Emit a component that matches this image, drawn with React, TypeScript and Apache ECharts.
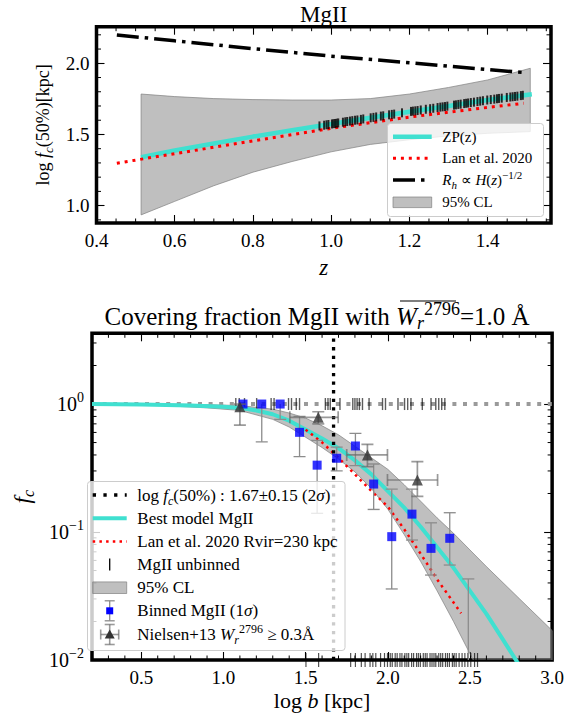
import React, { useEffect, useRef } from "react";
import * as echarts from "echarts";

const SERIF = "Liberation Serif, serif";

// ---------------- Top panel (log f_c(50%) vs z) ----------------
const zpZ = [0.514, 0.6, 0.7, 0.8, 0.9, 1.0, 1.1, 1.2, 1.3, 1.4, 1.513];
const zpLogR = [1.34, 1.387, 1.437, 1.485, 1.53, 1.573, 1.617, 1.66, 1.7, 1.742, 1.782];
const lanZ = [0.452, 0.6, 0.8, 1.0, 1.2, 1.4, 1.492];
const lanLogR = [1.298, 1.365, 1.455, 1.543, 1.622, 1.69, 1.719];
const hubZ = [0.452, 0.6, 0.8, 1.0, 1.2, 1.4, 1.496];
const hubLogR = [2.199, 2.158, 2.103, 2.05, 2.004, 1.956, 1.934];
const clZ = [0.514, 0.6, 0.7, 0.8, 0.9, 1.0, 1.1, 1.2, 1.3, 1.4, 1.509];
const clUpper = [1.784, 1.766, 1.752, 1.745, 1.742, 1.742, 1.752, 1.784, 1.83, 1.883, 1.965];
const clLower = [0.935, 1.03, 1.14, 1.235, 1.31, 1.378, 1.43, 1.463, 1.49, 1.508, 1.52];
const rugZ = [0.97, 0.982, 0.988, 0.993, 1.002, 1.006, 1.01, 1.014, 1.018, 1.03, 1.036, 1.041, 1.048, 1.054, 1.061, 1.067, 1.076, 1.082, 1.101, 1.108, 1.115, 1.127, 1.133, 1.148, 1.155, 1.161, 1.181, 1.204, 1.209, 1.215, 1.221, 1.229, 1.242, 1.253, 1.261, 1.272, 1.279, 1.285, 1.291, 1.297, 1.314, 1.319, 1.325, 1.331, 1.34, 1.345, 1.35, 1.357, 1.365, 1.374, 1.381, 1.388, 1.399, 1.408, 1.417, 1.424, 1.429, 1.436, 1.449, 1.458, 1.464, 1.47, 1.476, 1.485, 1.49];
const rugLogR = [1.56, 1.565, 1.568, 1.57, 1.574, 1.576, 1.577, 1.579, 1.581, 1.586, 1.589, 1.591, 1.594, 1.597, 1.6, 1.602, 1.606, 1.609, 1.617, 1.62, 1.623, 1.629, 1.631, 1.638, 1.641, 1.643, 1.652, 1.662, 1.664, 1.666, 1.668, 1.672, 1.677, 1.681, 1.684, 1.689, 1.692, 1.694, 1.696, 1.699, 1.706, 1.708, 1.711, 1.713, 1.717, 1.719, 1.721, 1.724, 1.727, 1.731, 1.734, 1.737, 1.742, 1.745, 1.748, 1.751, 1.753, 1.755, 1.76, 1.763, 1.765, 1.767, 1.769, 1.773, 1.775];

// ---------------- Bottom panel (f_c vs log b) ----------------
const modelLogB = [0.2, 0.5, 0.8, 1.0, 1.1, 1.2, 1.3, 1.4, 1.5, 1.6, 1.7, 1.8, 1.9, 2.0, 2.1, 2.2, 2.3, 2.4, 2.5, 2.6, 2.7, 2.8];
const modelFc = [1.0, 0.991, 0.973, 0.953, 0.933, 0.891, 0.832, 0.741, 0.631, 0.537, 0.452, 0.363, 0.282, 0.209, 0.155, 0.11, 0.0759, 0.0525, 0.0347, 0.0229, 0.0145, 0.0091];
const bandLogB = [0.2, 0.6, 0.9, 1.1, 1.3, 1.4, 1.5, 1.6, 1.7, 1.8, 1.9, 2.0, 2.1, 2.2, 2.3, 2.4, 2.5, 2.6, 2.8, 3.0];
const bandUpper = [1.007, 1.0, 0.989, 0.973, 0.912, 0.851, 0.776, 0.676, 0.575, 0.468, 0.38, 0.309, 0.234, 0.174, 0.129, 0.0977, 0.0724, 0.0537, 0.0302, 0.017];
const bandLower = [0.993, 0.977, 0.933, 0.891, 0.759, 0.661, 0.55, 0.457, 0.372, 0.295, 0.219, 0.151, 0.0955, 0.0589, 0.0347, 0.02, 0.0112, 0.0063, 0.002, 0.00063];
const lanLogB = [1.5, 1.6, 1.7, 1.8, 1.9, 2.0, 2.1, 2.2, 2.3, 2.446];
const lanFc = [0.631, 0.501, 0.38, 0.282, 0.209, 0.158, 0.105, 0.0676, 0.0427, 0.0232];
const b50 = 1.67;
const blueLogB = [1.119, 1.233, 1.345, 1.463, 1.57, 1.689, 1.803, 1.914, 2.024, 2.147, 2.263, 2.377];
const blueFc = [1.0, 1.0, 1.0, 0.601, 0.333, 0.377, 0.47, 0.237, 0.092, 0.138, 0.0745, 0.0893];
const blueLo = [1.0, 0.507, 0.759, 0.388, 0.14, 0.3, 0.33, 0.15, 0.0359, 0.0866, 0.0461, 0.0552];
const blueHi = [1.0, 1.0, 1.0, 0.8, 0.52, 0.46, 0.59, 0.34, 0.216, 0.216, 0.118, 0.1415];
const emptyBinLogB = [2.49];
const emptyBinHi = [0.043];
const nielLogB = [1.1, 1.577, 1.876, 2.18];
const nielFc = [0.953, 0.787, 0.4, 0.255];
const nielLo = [0.685, 0.7, 0.324, 0.19];
const nielHi = [1.0, 0.87, 0.484, 0.355];
const nielBLo = [1.1, 1.404, 1.75, 1.998];
const nielBHi = [1.1, 1.698, 1.998, 2.303];
const detLogB = [1.075, 1.096, 1.128, 1.202, 1.29, 1.308, 1.396, 1.414, 1.443, 1.463, 1.62, 1.636, 1.65, 1.709, 1.787, 1.8, 1.813, 1.827, 1.846, 1.886, 1.968, 1.986, 2.062, 2.102, 2.121, 2.141, 2.21, 2.263, 2.292, 2.31, 2.328, 2.347];
const nondetLogB = [1.502, 1.579, 1.774, 1.803, 1.839, 1.862, 1.892, 1.909, 1.927, 1.956, 1.98, 1.998, 2.015, 2.027, 2.045, 2.057, 2.074, 2.086, 2.104, 2.116, 2.127, 2.145, 2.157, 2.175, 2.186, 2.198, 2.216, 2.228, 2.239, 2.257, 2.269, 2.281, 2.292, 2.31, 2.322, 2.334, 2.351, 2.363, 2.375, 2.393, 2.404, 2.416, 2.434, 2.452, 2.469, 2.487, 2.505, 2.528, 2.546];

// axis ranges / ticks
const topX = { min: 0.4, max: 1.562, interval: 0.2 };
const topY = { min: 0.878, max: 2.257 };
const botX = { min: 0.2, max: 3.0 };
const botY = { min: 0.01, max: 3.57 };

const CYAN = "#40E0D0";
const TICK = { show: true, inside: true, length: 8, lineStyle: { color: "#000", width: 1.1 } };
const LBL = { fontFamily: SERIF, fontSize: 19, color: "#000" };
const TOP = 0; // axis index of top panel
const BOT = 2; // axis index of bottom panel

function range(a: number, b: number, step: number) {
  const out: number[] = [];
  for (let v = a; v <= b + 1e-9; v += step) out.push(Math.round(v * 1000) / 1000);
  return out;
}

function minorTicks(ai: number, dir: "x" | "y", values: number[], other: number, len: number) {
  return {
    type: "custom",
    xAxisIndex: ai,
    yAxisIndex: ai,
    silent: true,
    z: 20,
    data: values.map((v) => (dir === "x" ? [v, other] : [other, v])),
    renderItem: (params: any, api: any) => {
      const cs = params.coordSys;
      const p = api.coord([api.value(0), api.value(1)]);
      const st = { stroke: "#000", lineWidth: 1 };
      if (dir === "x") {
        return {
          type: "group",
          children: [
            { type: "line", shape: { x1: p[0], y1: cs.y + cs.height, x2: p[0], y2: cs.y + cs.height - len }, style: st },
            { type: "line", shape: { x1: p[0], y1: cs.y, x2: p[0], y2: cs.y + len }, style: st },
          ],
        };
      }
      return {
        type: "group",
        children: [
          { type: "line", shape: { x1: cs.x, y1: p[1], x2: cs.x + len, y2: p[1] }, style: st },
          { type: "line", shape: { x1: cs.x + cs.width, y1: p[1], x2: cs.x + cs.width - len, y2: p[1] }, style: st },
        ],
      };
    },
  };
}

function errorBars(ai: number, data: number[][], color: string, lw: number, cap: number, z: number) {
  return {
    type: "custom",
    xAxisIndex: ai,
    yAxisIndex: ai,
    clip: true,
    silent: true,
    z,
    data,
    renderItem: (params: any, api: any) => {
      const x = api.value(0), y = api.value(1), lo = api.value(2), hi = api.value(3), xl = api.value(4), xh = api.value(5);
      const st = { stroke: color, lineWidth: lw };
      const ch: any[] = [];
      const pl = api.coord([x, lo]);
      const ph = api.coord([x, hi]);
      ch.push({ type: "line", shape: { x1: pl[0], y1: pl[1], x2: ph[0], y2: ph[1] }, style: st });
      if (lo !== y) ch.push({ type: "line", shape: { x1: pl[0] - cap, y1: pl[1], x2: pl[0] + cap, y2: pl[1] }, style: st });
      if (hi !== y) ch.push({ type: "line", shape: { x1: ph[0] - cap, y1: ph[1], x2: ph[0] + cap, y2: ph[1] }, style: st });
      if (xl !== xh) {
        const a = api.coord([xl, y]);
        const b = api.coord([xh, y]);
        ch.push({ type: "line", shape: { x1: a[0], y1: a[1], x2: b[0], y2: b[1] }, style: st });
        ch.push({ type: "line", shape: { x1: a[0], y1: a[1] - cap, x2: a[0], y2: a[1] + cap }, style: st });
        ch.push({ type: "line", shape: { x1: b[0], y1: b[1] - cap, x2: b[0], y2: b[1] + cap }, style: st });
      }
      return { type: "group", children: ch };
    },
  };
}

function band(ai: number, xs: number[], up: number[], lo: number[]) {
  return {
    type: "custom",
    xAxisIndex: ai,
    yAxisIndex: ai,
    clip: true,
    silent: true,
    z: 1,
    data: [[xs[0], up[0]]],
    renderItem: (params: any, api: any) => {
      const pts: number[][] = [];
      for (let i = 0; i < xs.length; i++) pts.push(api.coord([xs[i], up[i]]));
      for (let i = xs.length - 1; i >= 0; i--) pts.push(api.coord([xs[i], lo[i]]));
      return {
        type: "polygon",
        shape: { points: pts },
        style: { fill: "rgba(128,128,128,0.5)", stroke: "rgba(128,128,128,0.7)", lineWidth: 1 },
      };
    },
  };
}

const richMath = (size: number, lh: number) => ({
  it: { fontFamily: SERIF, fontStyle: "italic", fontSize: size, lineHeight: lh, color: "#000" },
  rm: { fontFamily: SERIF, fontSize: size, lineHeight: lh, color: "#000" },
  sub: { fontFamily: SERIF, fontStyle: "italic", fontSize: Math.round(size * 0.7), lineHeight: Math.round(size * 0.7), verticalAlign: "bottom", color: "#000" },
  sup: { fontFamily: SERIF, fontSize: Math.round(size * 0.7), lineHeight: Math.round(size * 0.7), verticalAlign: "top", color: "#000" },
});

function legendText(x: number, y: number, text: string, size: number) {
  return {
    type: "text",
    x,
    y,
    z: 101,
    style: {
      text,
      fontFamily: SERIF,
      fontSize: size,
      fill: "#000",
      verticalAlign: "middle",
      align: "left",
      lineHeight: size + 6,
      rich: richMath(size, size + 6),
    },
  };
}

function hline(x1: number, x2: number, y: number, stroke: string, lw: number, dash?: number[]) {
  return { type: "line", z: 101, shape: { x1, y1: y, x2, y2: y }, style: { stroke, lineWidth: lw, lineDash: dash } };
}

function buildOption() {
  const tRows = [136.7, 158.3, 180, 202.3];
  const tx1 = 393, tx2 = 431.7, ttx = 442.3;
  const bRows = [495, 518.3, 541.5, 564.5, 587.7, 610.8, 634.5];
  const bx1 = 92.7, bx2 = 126.7, bxc = 109.7, btx = 137.3;
  const NB = "rgba(100,100,100,0.65)";

  const graphic: any[] = [
    // titles
    { type: "text", x: 323.7, y: 14, style: { text: "MgII", fontFamily: SERIF, fontSize: 23, fill: "#000", align: "center", verticalAlign: "middle" } },
    {
      type: "text",
      x: 317,
      y: 316,
      style: {
        text: "Covering fraction MgII with {it|W}{sub|r}{sup|2796}=1.0 Å",
        fontFamily: SERIF,
        fontSize: 25,
        fill: "#000",
        align: "center",
        verticalAlign: "middle",
        lineHeight: 32,
        rich: richMath(25, 32),
      },
    },
    { type: "line", shape: { x1: 400, y1: 301, x2: 456, y2: 301 }, style: { stroke: "#000", lineWidth: 1.2 } },
    // top legend
    { type: "rect", z: 100, shape: { x: 387.5, y: 123.5, width: 156, height: 93, r: 3 }, style: { fill: "rgba(255,255,255,0.8)", stroke: "#cccccc", lineWidth: 1 } },
    hline(tx1, tx2, tRows[0], CYAN, 4.5),
    hline(tx1, tx2, tRows[1], "#ff0000", 3, [3, 4.9]),
    hline(tx1, tx2, tRows[2], "#000", 3.5, [22, 6, 3.5, 60]),
    { type: "rect", z: 101, shape: { x: tx1, y: tRows[3] - 5.3, width: tx2 - tx1, height: 10.6 }, style: { fill: "rgba(128,128,128,0.5)", stroke: "rgba(128,128,128,0.7)", lineWidth: 1 } },
    legendText(ttx, tRows[0], "ZP(z)", 15),
    legendText(ttx, tRows[1], "Lan et al. 2020", 15),
    legendText(ttx, tRows[2], "{it|R}{sub|h} ∝ {it|H}({it|z}){sup|−1/2}", 15),
    legendText(ttx, tRows[3], "95% CL", 15),
    // bottom legend
    { type: "rect", z: 100, shape: { x: 87.5, y: 481.5, width: 257.5, height: 169, r: 3 }, style: { fill: "rgba(255,255,255,0.8)", stroke: "#cccccc", lineWidth: 1 } },
    hline(bx1, bx2, bRows[0], "#000", 3.3, [3.3, 7.4]),
    hline(bx1, bx2, bRows[1], CYAN, 4),
    hline(bx1, bx2, bRows[2], "#ff0000", 2.5, [2.5, 4.2]),
    { type: "line", z: 101, shape: { x1: bxc, y1: bRows[3] - 6, x2: bxc, y2: bRows[3] + 6 }, style: { stroke: "#000", lineWidth: 1.3 } },
    { type: "rect", z: 101, shape: { x: bx1, y: bRows[4] - 5.8, width: bx2 - bx1, height: 11.6 }, style: { fill: "rgba(128,128,128,0.5)", stroke: "rgba(128,128,128,0.7)", lineWidth: 1 } },
    { type: "line", z: 101, shape: { x1: bxc, y1: bRows[5] - 10, x2: bxc, y2: bRows[5] + 10 }, style: { stroke: "#8c8c8c", lineWidth: 1.3 } },
    { type: "line", z: 101, shape: { x1: bxc - 5, y1: bRows[5] - 10, x2: bxc + 5, y2: bRows[5] - 10 }, style: { stroke: "#8c8c8c", lineWidth: 1.3 } },
    { type: "line", z: 101, shape: { x1: bxc - 5, y1: bRows[5] + 10, x2: bxc + 5, y2: bRows[5] + 10 }, style: { stroke: "#8c8c8c", lineWidth: 1.3 } },
    { type: "rect", z: 102, shape: { x: bxc - 3.5, y: bRows[5] - 3.5, width: 7, height: 7 }, style: { fill: "#0000ff" } },
    { type: "line", z: 101, shape: { x1: bxc, y1: bRows[6] - 10, x2: bxc, y2: bRows[6] + 10 }, style: { stroke: NB, lineWidth: 1.6 } },
    { type: "line", z: 101, shape: { x1: bxc - 5, y1: bRows[6] - 10, x2: bxc + 5, y2: bRows[6] - 10 }, style: { stroke: NB, lineWidth: 1.6 } },
    { type: "line", z: 101, shape: { x1: bxc - 5, y1: bRows[6] + 10, x2: bxc + 5, y2: bRows[6] + 10 }, style: { stroke: NB, lineWidth: 1.6 } },
    { type: "line", z: 101, shape: { x1: bxc - 9, y1: bRows[6], x2: bxc + 9, y2: bRows[6] }, style: { stroke: NB, lineWidth: 1.6 } },
    { type: "line", z: 101, shape: { x1: bxc - 9, y1: bRows[6] - 5, x2: bxc - 9, y2: bRows[6] + 5 }, style: { stroke: NB, lineWidth: 1.6 } },
    { type: "line", z: 101, shape: { x1: bxc + 9, y1: bRows[6] - 5, x2: bxc + 9, y2: bRows[6] + 5 }, style: { stroke: NB, lineWidth: 1.6 } },
    { type: "polygon", z: 102, shape: { points: [[bxc, bRows[6] - 5], [bxc - 5, bRows[6] + 4], [bxc + 5, bRows[6] + 4]] }, style: { fill: "#333333" } },
    legendText(btx, bRows[0], "log {it|f}{sub|c}(50%) : 1.67±0.15 (2{it|σ})", 17),
    legendText(btx, bRows[1], "Best model MgII", 17),
    legendText(btx, bRows[2], "Lan et al. 2020 Rvir=230 kpc", 17),
    legendText(btx, bRows[3], "MgII unbinned", 17),
    legendText(btx, bRows[4], "95% CL", 17),
    legendText(btx, bRows[5], "Binned MgII (1{it|σ})", 17),
    legendText(btx, bRows[6], "Nielsen+13 {it|W}{sub|r}{sup|2796} ≥ 0.3Å", 17),
  ];

  const fmt1 = (v: number) => v.toFixed(1);
  const logFmt = (v: number) => {
    const n = Math.round(Math.log10(v));
    return `{b|10}{s|${n === 0 ? "0" : "−" + Math.abs(n)}}`;
  };

  return {
    animation: false,
    backgroundColor: "#ffffff",
    textStyle: { fontFamily: SERIF },
    grid: [
      { left: 96.5, top: 26.7, width: 454.5, height: 196.3, show: true, borderColor: "#000", borderWidth: 3.5, backgroundColor: "transparent" },
      { left: 80, top: 333.3, width: 474, height: 326.7, show: true, borderColor: "#000", borderWidth: 3.5, backgroundColor: "transparent" },
    ],
    xAxis: [
      {
        gridIndex: 0, type: "value", position: "bottom", ...topX,
        axisLine: { show: false }, axisTick: TICK, splitLine: { show: false },
        axisLabel: { ...LBL, margin: 8, showMaxLabel: false, formatter: fmt1 },
        name: "z", nameLocation: "middle", nameGap: 33,
        nameTextStyle: { fontFamily: SERIF, fontStyle: "italic", fontSize: 23, color: "#000" },
      },
      { gridIndex: 0, type: "value", position: "top", ...topX, axisLine: { show: false }, axisTick: TICK, splitLine: { show: false }, axisLabel: { show: false } },
      {
        gridIndex: 1, type: "value", position: "bottom", ...botX, splitNumber: 5,
        axisLine: { show: false }, axisTick: TICK, splitLine: { show: false },
        axisLabel: { ...LBL, margin: 8, showMinLabel: false, formatter: fmt1 },
        name: "log {it|b} [kpc]", nameLocation: "middle", nameGap: 24,
        nameTextStyle: { fontFamily: SERIF, fontSize: 22, color: "#000", lineHeight: 26, rich: richMath(22, 26) },
      },
      { gridIndex: 1, type: "value", position: "top", ...botX, splitNumber: 5, axisLine: { show: false }, axisTick: TICK, splitLine: { show: false }, axisLabel: { show: false } },
    ],
    yAxis: [
      {
        gridIndex: 0, type: "value", position: "left", ...topY, splitNumber: 3,
        axisLine: { show: false }, axisTick: TICK, splitLine: { show: false },
        axisLabel: { ...LBL, margin: 7, showMinLabel: false, showMaxLabel: false, formatter: fmt1 },
        name: "log {it|f}{sub|c}(50%)[kpc]", nameLocation: "middle", nameGap: 35, nameRotate: 90,
        nameTextStyle: { fontFamily: SERIF, fontSize: 18, color: "#000", lineHeight: 24, rich: richMath(18, 24) },
      },
      { gridIndex: 0, type: "value", position: "right", ...topY, splitNumber: 3, axisLine: { show: false }, axisTick: TICK, splitLine: { show: false }, axisLabel: { show: false } },
      {
        gridIndex: 1, type: "log", logBase: 10, position: "left", ...botY,
        axisLine: { show: false }, axisTick: TICK, splitLine: { show: false },
        axisLabel: {
          margin: 8, showMaxLabel: false, formatter: logFmt,
          rich: {
            b: { fontFamily: SERIF, fontSize: 20, lineHeight: 28, color: "#000" },
            s: { fontFamily: SERIF, fontSize: 14, lineHeight: 14, verticalAlign: "top", color: "#000" },
          },
        },
        name: "{it|f}{sub|c}", nameLocation: "middle", nameGap: 56, nameRotate: 90,
        nameTextStyle: { fontFamily: SERIF, fontSize: 23, color: "#000", lineHeight: 28, rich: richMath(23, 28) },
      },
      { gridIndex: 1, type: "log", logBase: 10, position: "right", ...botY, axisLine: { show: false }, axisTick: TICK, splitLine: { show: false }, axisLabel: { show: false } },
    ],
    graphic,
    series: [
      // ---- top panel ----
      band(TOP, clZ, clUpper, clLower),
      {
        type: "line", xAxisIndex: TOP, yAxisIndex: TOP, z: 3, showSymbol: false, silent: true,
        data: zpZ.map((z, i) => [z, zpLogR[i]]),
        lineStyle: { color: CYAN, width: 4.5 },
      },
      {
        type: "line", xAxisIndex: TOP, yAxisIndex: TOP, z: 4, showSymbol: false, silent: true,
        data: lanZ.map((z, i) => [z, lanLogR[i]]),
        lineStyle: { color: "#ff0000", width: 3, type: [3, 4.9] },
      },
      {
        type: "line", xAxisIndex: TOP, yAxisIndex: TOP, z: 4, showSymbol: false, silent: true,
        data: hubZ.map((z, i) => [z, hubLogR[i]]),
        lineStyle: { color: "#000", width: 3.5, type: [22, 6, 3.5, 6] },
      },
      {
        type: "scatter", xAxisIndex: TOP, yAxisIndex: TOP, z: 5, silent: true,
        symbol: "rect", symbolSize: [2, 9],
        itemStyle: { color: "#000" },
        data: rugZ.map((z, i) => [z, rugLogR[i]]),
      },
      minorTicks(TOP, "x", range(0.45, 1.55, 0.05).filter((v) => Math.abs(v * 5 - Math.round(v * 5)) > 1e-6), 1.5, 4.5),
      minorTicks(TOP, "y", range(0.9, 2.2, 0.1).filter((v) => Math.abs(v * 2 - Math.round(v * 2)) > 1e-6), 1.0, 4.5),
      // ---- bottom panel ----
      band(BOT, bandLogB, bandUpper, bandLower),
      {
        type: "line", xAxisIndex: BOT, yAxisIndex: BOT, z: 2, showSymbol: false, silent: true,
        data: [[botX.min, 1], [botX.max, 1]],
        lineStyle: { color: "#9a9a9a", width: 4, type: [4, 6.6] },
      },
      {
        type: "scatter", xAxisIndex: BOT, yAxisIndex: BOT, z: 3, silent: true,
        symbol: "rect", symbolSize: [1.4, 12],
        itemStyle: { color: "rgba(0,0,0,0.8)" },
        data: detLogB.map((b) => [b, 1]),
      },
      {
        type: "scatter", xAxisIndex: BOT, yAxisIndex: BOT, z: 3, silent: true,
        symbol: "rect", symbolSize: [1.2, 14],
        itemStyle: { color: "rgba(0,0,0,0.85)" },
        data: nondetLogB.map((b) => [b, botY.min]),
      },
      {
        type: "line", xAxisIndex: BOT, yAxisIndex: BOT, z: 4, showSymbol: false, silent: true,
        data: modelLogB.map((b, i) => [b, modelFc[i]]),
        lineStyle: { color: CYAN, width: 4 },
      },
      {
        type: "line", xAxisIndex: BOT, yAxisIndex: BOT, z: 5, showSymbol: false, silent: true,
        data: lanLogB.map((b, i) => [b, lanFc[i]]),
        lineStyle: { color: "#ff0000", width: 2.5, type: [2.5, 4.2] },
      },
      {
        type: "line", xAxisIndex: BOT, yAxisIndex: BOT, z: 6, showSymbol: false, silent: true,
        data: [[b50, botY.min], [b50, botY.max]],
        lineStyle: { color: "#000", width: 3.3, type: [3.3, 5.3] },
      },
      errorBars(BOT, blueLogB.map((b, i) => [b, blueFc[i], blueLo[i], blueHi[i], b, b]).concat(emptyBinLogB.map((b, i) => [b, 0.001, 0.001, emptyBinHi[i], b, b])), "#8c8c8c", 1.3, 6, 7),
      {
        type: "scatter", xAxisIndex: BOT, yAxisIndex: BOT, z: 8, silent: true,
        symbol: "rect", symbolSize: 9,
        itemStyle: { color: "#0000ff" },
        data: blueLogB.map((b, i) => [b, blueFc[i]]),
      },
      errorBars(BOT, nielLogB.map((b, i) => [b, nielFc[i], nielLo[i], nielHi[i], nielBLo[i], nielBHi[i]]), NB, 1.7, 6, 9),
      {
        type: "scatter", xAxisIndex: BOT, yAxisIndex: BOT, z: 10, silent: true,
        symbol: "triangle", symbolSize: 11,
        itemStyle: { color: "#333333" },
        data: nielLogB.map((b, i) => [b, nielFc[i]]),
      },
      minorTicks(BOT, "x", range(0.3, 2.9, 0.1).filter((v) => Math.abs(v * 2 - Math.round(v * 2)) > 1e-6), 1, 4.5),
      minorTicks(BOT, "y", [0.02, 0.03, 0.04, 0.05, 0.06, 0.07, 0.08, 0.09, 0.2, 0.3, 0.4, 0.5, 0.6, 0.7, 0.8, 0.9, 2, 3], 1.0, 4.5),
    ],
  };
}

export default function App() {
  const ref = useRef<HTMLDivElement>(null);
  useEffect(() => {
    if (!ref.current) return;
    const chart = echarts.init(ref.current, null, { renderer: "svg" });
    chart.setOption(buildOption() as any);
    return () => chart.dispose();
  }, []);
  return <div ref={ref} style={{ position: "absolute", left: 0, top: 0, width: 567, height: 717, background: "#fff" }} />;
}
